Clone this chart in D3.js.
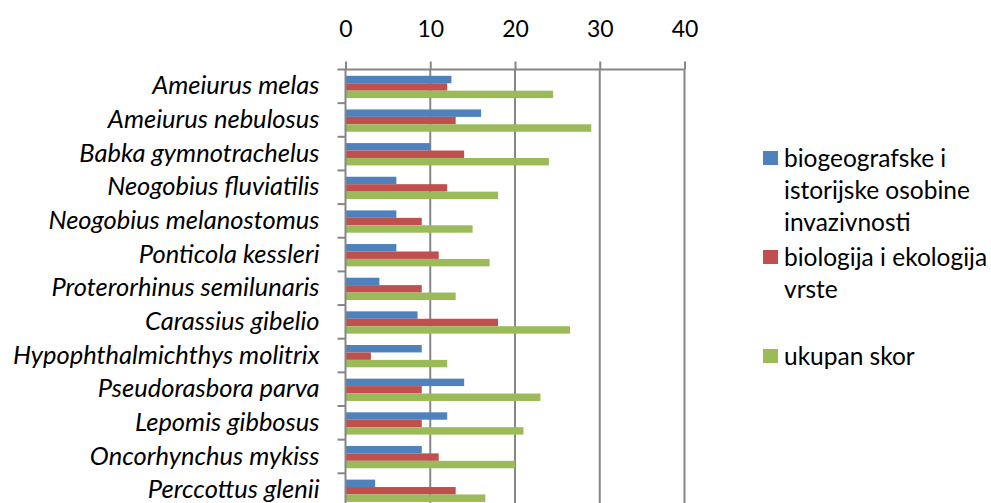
<!DOCTYPE html>
<html>
<head>
<meta charset="utf-8">
<script src="https://cdn.jsdelivr.net/npm/d3@7"></script>
<style>
  body { margin: 0; background: #fff; }
  svg { display: block; font-family: Lato, "Open Sans", sans-serif; }
</style>
</head>
<body>
<div id="chart"></div>
<script>
var species = ['Ameiurus melas', 'Ameiurus nebulosus', 'Babka gymnotrachelus', 'Neogobius fluviatilis',
  'Neogobius melanostomus', 'Ponticola kessleri', 'Proterorhinus semilunaris', 'Carassius gibelio',
  'Hypophthalmichthys molitrix', 'Pseudorasbora parva', 'Lepomis gibbosus', 'Oncorhynchus mykiss',
  'Perccottus glenii'];

var biogeo = [12.5, 16, 10, 6, 6, 6, 4, 8.5, 9, 14, 12, 9, 3.5];
var biology = [12, 13, 14, 12, 9, 11, 9, 18, 3, 9, 9, 11, 13];
var total = [24.5, 29, 24, 18, 15, 17, 13, 26.5, 12, 23, 21, 20, 16.5];

var xTicks = [0, 10, 20, 30, 40];

var seriesNames = [['biogeografske i', 'istorijske osobine', 'invazivnosti'],
  ['biologija i ekologija', 'vrste'],
  ['ukupan skor']];
var colors = ['#4F81BD', '#C0504D', '#9BBB59'];
var seriesData = [biogeo, biology, total];

var W = 991, H = 503;
var gridColor = '#868686';

var svg = d3.select('#chart').append('svg')
  .attr('width', W)
  .attr('height', H);

var x = d3.scaleLinear()
  .domain([0, 40])
  .range([345.5, 684.5]);

var y = d3.scaleBand()
  .domain(species)
  .range([69.5, 69.5 + 13 * 33.65]);

// three bars inside each category band
var inner = d3.scaleBand()
  .domain([0, 1, 2])
  .range([6.3, 28.6]);

// vertical gridlines
svg.append('g')
  .selectAll('line')
  .data(xTicks.slice(1))
  .enter()
  .append('line')
  .attr('x1', d => x(d))
  .attr('x2', d => x(d))
  .attr('y1', y.range()[0])
  .attr('y2', y.range()[1])
  .attr('stroke', gridColor)
  .attr('stroke-width', 2);

// bars
seriesData.forEach(function(vals, s) {
  svg.append('g')
    .selectAll('rect')
    .data(vals)
    .enter()
    .append('rect')
    .attr('x', x(0))
    .attr('y', (d, i) => y(species[i]) + inner(s))
    .attr('width', d => x(d) - x(0))
    .attr('height', inner.bandwidth())
    .attr('fill', colors[s]);
});

// top axis
var xAxis = svg.append('g')
  .attr('transform', 'translate(0,' + y.range()[0] + ')')
  .call(d3.axisTop(x).tickValues(xTicks).tickSize(8).tickSizeOuter(0));
xAxis.select('.domain')
  .attr('d', 'M' + (x(0) - 8) + ',0H' + x(40));
xAxis.selectAll('line, .domain')
  .attr('stroke', gridColor)
  .attr('stroke-width', 2);
xAxis.selectAll('text')
  .attr('y', -33)
  .attr('fill', '#000')
  .attr('font-size', '23px')
  .attr('font-family', 'Lato, sans-serif');

// left axis
var yAxis = svg.append('g')
  .attr('transform', 'translate(' + x(0) + ',0)')
  .call(d3.axisLeft(y).tickSize(0).tickSizeOuter(0).tickPadding(26));
yAxis.select('.domain')
  .attr('d', 'M0,' + y.range()[0] + 'V' + y.range()[1])
  .attr('stroke', gridColor)
  .attr('stroke-width', 2);
yAxis.selectAll('text')
  .attr('fill', '#000')
  .attr('font-size', '25.5px')
  .attr('font-style', 'italic')
  .attr('font-family', 'Lato, sans-serif');

// category separator ticks on the left axis
svg.append('g')
  .selectAll('line')
  .data(species.slice(1))
  .enter()
  .append('line')
  .attr('x1', x(0) - 8)
  .attr('x2', x(0))
  .attr('y1', d => y(d))
  .attr('y2', d => y(d))
  .attr('stroke', gridColor)
  .attr('stroke-width', 2);

// legend
var legend = svg.append('g');
seriesNames.forEach(function(lines, s) {
  var top = 158 + s * 99;
  legend.append('rect')
    .attr('x', 763)
    .attr('y', top - 7)
    .attr('width', 15)
    .attr('height', 14)
    .attr('fill', colors[s]);
  legend.append('text')
    .attr('x', 784)
    .attr('y', top)
    .attr('font-size', '24.5px')
    .attr('fill', '#000')
    .selectAll('tspan')
    .data(lines)
    .enter()
    .append('tspan')
    .attr('x', 784)
    .attr('y', (d, i) => top + i * 32.3)
    .attr('dy', '0.35em')
    .text(d => d);
});
</script>
</body>
</html>
